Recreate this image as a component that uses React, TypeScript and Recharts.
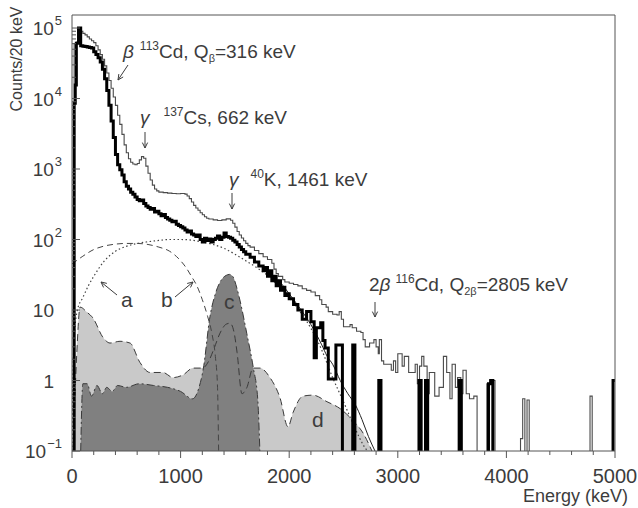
import React from 'react';
import { ComposedChart, Line, Area, XAxis, YAxis, ReferenceLine } from 'recharts';

// energy ticks (keV), labels every 1000
const xTicks = [0, 200, 400, 600, 800, 1000, 1200, 1400, 1600, 1800, 2000, 2200, 2400, 2600, 2800, 3000,
  3200, 3400, 3600, 3800, 4000, 4200, 4400, 4600, 4800, 5000];
const xLabels = ['0', '1000', '2000', '3000', '4000', '5000'];

const yMajor = [0.1, 1, 10, 100, 1000, 10000, 100000];
const yLabels: [string, string][] = [['10', '−1'], ['1', ''], ['10', ''], ['10', '2'], ['10', '3'], ['10', '4'], ['10', '5']];
const yMinor = [0.2, 0.3, 0.4, 0.5, 0.6, 0.7, 0.8, 0.9, 2, 3, 4, 5, 6, 7, 8, 9, 20, 30, 40, 50, 60, 70, 80, 90,
  200, 300, 400, 500, 600, 700, 800, 900, 2000, 3000, 4000, 5000, 6000, 7000, 8000, 9000,
  20000, 30000, 40000, 50000, 60000, 70000, 80000, 90000];

// [bin start keV, counts]; 0.05 = empty bin (below the axis)
const thinHist: [number, number][] = [
  [0, 0.05], [20, 6.0e4], [40, 6.3e4], [60, 9.8e4], [80, 9.0e4], [100, 8.4e4], [120, 8.0e4], [140, 7.5e4],
  [160, 7.0e4], [180, 6.6e4], [200, 6.2e4], [220, 5.6e4], [240, 4.9e4], [260, 4.2e4], [280, 3.6e4],
  [300, 2.9e4], [320, 2.3e4], [340, 1.8e4], [360, 1.4e4], [380, 1.05e4], [400, 8.0e3], [420, 5.8e3],
  [440, 4.3e3], [460, 3.1e3], [480, 2.2e3], [500, 1.7e3], [520, 1.4e3], [540, 1.25e3], [560, 1.18e3],
  [580, 1.15e3], [600, 1.2e3], [620, 1.35e3], [640, 1.5e3], [660, 1.42e3], [680, 1.1e3], [700, 870],
  [720, 700], [740, 590], [760, 520], [780, 490], [800, 470], [840, 462], [880, 455], [920, 450],
  [960, 445], [1000, 450], [1040, 440], [1060, 415], [1080, 380], [1100, 340], [1120, 305], [1140, 280],
  [1160, 260], [1180, 240], [1200, 225], [1220, 210], [1240, 200], [1260, 195], [1300, 190], [1340, 186],
  [1380, 190], [1420, 196], [1460, 188], [1480, 170], [1500, 150], [1520, 130], [1540, 116], [1560, 105],
  [1580, 96], [1600, 88], [1620, 82], [1640, 78], [1680, 70], [1720, 63], [1760, 57], [1800, 52],
  [1840, 46], [1860, 38], [1880, 33], [1900, 30], [1940, 27], [1960, 25], [2000, 24], [2040, 23],
  [2080, 22], [2120, 20], [2160, 19], [2200, 18], [2240, 16], [2280, 14], [2300, 12], [2340, 11],
  [2360, 9.5], [2400, 8.7], [2440, 8.5], [2460, 9.5], [2480, 7.4], [2500, 5.8], [2560, 6.2], [2580, 5.6],
  [2620, 5], [2660, 4.8], [2680, 3.8], [2700, 3], [2740, 3.4], [2780, 3.8], [2800, 3], [2820, 2.4],
  [2830, 3.8], [2850, 1.9], [2870, 1.7], [2900, 1.7], [2940, 1.4], [2960, 1.9], [2980, 1.3], [3000, 2.4],
  [3040, 1.6], [3060, 2.2], [3100, 1.3], [3160, 1.7], [3180, 0.9], [3200, 1.6], [3220, 2.2], [3240, 1.6],
  [3270, 0.65], [3290, 1.3], [3340, 0.6], [3380, 0.8], [3420, 2.2], [3450, 1.3], [3480, 0.55], [3500, 1.7],
  [3530, 0.8], [3550, 1.1], [3580, 0.65], [3600, 1.4], [3630, 0.65], [3660, 0.55], [3700, 0.6], [3730, 0.05],
  [3820, 0.9], [3850, 1.0], [3895, 0.05], [4130, 0.15], [4150, 0.55], [4170, 0.05], [4190, 0.53], [4210, 0.05],
  [4770, 0.6], [4790, 0.05], [4980, 1.0], [5000, 1.0],
];

const thickHist: [number, number][] = [
  [0, 0.05], [20, 8.6e3], [30, 1.55e4], [40, 6.1e4], [60, 1.0e5], [80, 5.6e4], [100, 5.5e4], [120, 5.45e4],
  [140, 5.4e4], [160, 5.3e4], [180, 5.2e4], [200, 4.6e4], [220, 4.2e4], [240, 3.8e4], [260, 3.3e4],
  [280, 2.6e4], [300, 1.9e4], [320, 1.3e4], [340, 8.0e3], [360, 4.8e3], [380, 2.8e3], [400, 1.6e3],
  [420, 1.15e3], [440, 980], [460, 820], [480, 660], [500, 570], [520, 520], [540, 470], [560, 440],
  [580, 400], [600, 370], [620, 355], [640, 362], [660, 325], [680, 300], [700, 285], [720, 268],
  [740, 275], [760, 245], [780, 252], [800, 232], [820, 218], [840, 226], [860, 205], [880, 195],
  [900, 188], [920, 178], [940, 182], [960, 165], [980, 158], [1000, 152], [1020, 146], [1040, 136],
  [1060, 128], [1080, 132], [1100, 120], [1120, 116], [1140, 110], [1160, 116], [1180, 100], [1200, 92],
  [1220, 104], [1240, 97], [1260, 102], [1280, 92], [1300, 100], [1320, 104], [1340, 112], [1360, 100],
  [1380, 108], [1400, 124], [1420, 110], [1440, 108], [1460, 104], [1480, 98], [1500, 92], [1520, 85],
  [1540, 78], [1560, 72], [1580, 67], [1600, 62], [1640, 56], [1680, 48], [1720, 42], [1760, 36],
  [1780, 40], [1800, 30], [1820, 36], [1840, 26], [1860, 30], [1880, 22], [1900, 26], [1920, 19],
  [1940, 21], [1960, 16], [1980, 17], [2000, 14.5], [2040, 12], [2080, 10], [2120, 7.4], [2160, 9.5],
  [2200, 6.8], [2230, 2.1], [2250, 5.6], [2290, 6.6], [2310, 3.7], [2330, 2.9], [2360, 1.05], [2430, 3.2],
  [2490, 0.05], [2585, 3.2], [2605, 0.05], [2825, 1.0], [2845, 0.05], [3195, 1.0], [3215, 0.05],
  [3255, 1.0], [3275, 0.05], [3565, 1.0], [3585, 0.05], [3835, 0.9], [3855, 1.0], [3875, 0.05],
  [4982, 1.0], [5000, 1.0],
];

// model components
const curveA: [number, number][] = [
  [0, 0.1], [10, 1.5], [25, 5], [50, 10], [100, 15], [150, 22], [200, 30], [300, 50], [400, 68], [500, 80],
  [600, 88], [700, 93], [800, 97], [900, 100], [1000, 100], [1100, 98], [1200, 92], [1300, 85], [1400, 75],
  [1500, 62], [1600, 50], [1700, 40], [1800, 31], [1900, 22], [2000, 15], [2100, 9.5], [2200, 5.5],
  [2300, 2.7], [2400, 1.1], [2500, 0.5], [2600, 0.22], [2700, 0.11], [2720, 0.1],
];
const curveB: [number, number][] = [
  [0, 45], [100, 58], [200, 72], [300, 81], [400, 86], [500, 88], [600, 88], [700, 85], [800, 78],
  [900, 68], [1000, 50], [1050, 40], [1100, 30], [1150, 22], [1200, 14], [1250, 8], [1290, 4.5],
  [1320, 2.2], [1340, 0.8], [1350, 0.1],
];
const areaC: [number, number][] = [
  [80, 0.1], [100, 0.9], [140, 0.9], [180, 0.6], [230, 0.85], [280, 0.65], [320, 0.8], [370, 0.7],
  [420, 0.85], [500, 0.8], [620, 0.9], [750, 0.85], [880, 0.8], [1000, 0.7], [1110, 0.55], [1170, 0.8],
  [1210, 1.5], [1270, 8], [1320, 17], [1370, 26], [1420, 31], [1450, 32], [1480, 30], [1520, 20],
  [1550, 13], [1610, 4.6], [1670, 1.5], [1710, 0.55], [1730, 0.1],
];
const areaD: [number, number][] = [
  [10, 0.1], [46, 2.8], [74, 11], [138, 9.3], [193, 7.7], [285, 4.1], [350, 3.4], [442, 3.6], [534, 3.4],
  [626, 1.8], [718, 1.3], [838, 1.3], [930, 1.1], [1022, 1.2], [1114, 1.5], [1200, 1.5], [1260, 1.9],
  [1310, 2.9], [1363, 4.7], [1420, 6.3], [1455, 6.5], [1490, 5], [1520, 2.5], [1565, 0.65], [1611, 0.8],
  [1667, 1.5], [1731, 1.5], [1823, 1.1], [1915, 0.57], [1989, 0.22], [2035, 0.35], [2127, 0.6],
  [2219, 0.62], [2348, 0.5], [2468, 0.4], [2587, 0.27], [2680, 0.18], [2762, 0.1],
];
const fitTotal: [number, number][] = [
  [1900, 27], [2000, 17], [2100, 10.5], [2200, 6.2], [2300, 3.2], [2350, 2.2], [2400, 1.7], [2470, 1.0],
  [2540, 0.65], [2610, 0.45], [2670, 0.28], [2730, 0.16], [2790, 0.1],
];

const pts = (a: [number, number][]) => a.map(([e, v]) => ({ e, v }));

const FONT = '"Liberation Sans", Arial, sans-serif';
const INK = '#3c3c3c';
const Y_MAX = 1.53e5;

function XTick(props: any) {
  const { x, y, payload } = props;
  const v = payload.value;
  const major = v % 1000 === 0;
  const label = xLabels[v / 1000];
  return (
    <g>
      <line x1={x} x2={x} y1={y} y2={y + (major ? 7 : 4)} stroke="#555" />
      {major && (
        <text x={x} y={y + 32} textAnchor="middle" fontSize={20} fontFamily={FONT} fill={INK}>
          {label}
        </text>
      )}
    </g>
  );
}

function YTick(props: any) {
  const { x, y, payload } = props;
  const idx = yMajor.indexOf(payload.value);
  if (idx < 0) return <line x1={x} x2={x + 4} y1={y} y2={y} stroke="#555" />;
  const [base, sup] = yLabels[idx];
  return (
    <g>
      <line x1={x} x2={x + 8} y1={y} y2={y} stroke="#555" />
      <text x={sup ? x - 10 : x - 18} y={y + 7} textAnchor="end" fontSize={19} fontFamily={FONT} fill={INK}>
        {base}
        {sup && (
          <tspan fontSize={13} dx={1} dy={-10}>
            {sup}
          </tspan>
        )}
      </text>
    </g>
  );
}

function Arrow({ x1, y1, x2, y2 }: { x1: number; y1: number; x2: number; y2: number }) {
  const a = Math.atan2(y2 - y1, x2 - x1);
  const h = 6;
  const p1 = [x2 - h * Math.cos(a - 0.45), y2 - h * Math.sin(a - 0.45)];
  const p2 = [x2 - h * Math.cos(a + 0.45), y2 - h * Math.sin(a + 0.45)];
  return (
    <g stroke={INK} strokeWidth={1} fill="none">
      <line x1={x1} y1={y1} x2={x2} y2={y2} />
      <polyline points={`${p1[0]},${p1[1]} ${x2},${y2} ${p2[0]},${p2[1]}`} />
    </g>
  );
}

function Annotations() {
  return (
    <svg width={638} height={508} style={{ position: 'absolute', left: 0, top: 0, pointerEvents: 'none' }}>
      <g fontFamily={FONT} fill={INK} fontSize={19}>
        <text x={17} y={59} textAnchor="middle" fontSize={16} transform="rotate(-90 17 59)" dy={5}>
          Counts/20 keV
        </text>
        <text x={628} y={502} textAnchor="end" fontSize={18}>Energy (keV)</text>

        <text x={123} y={58}>
          <tspan fontStyle="italic">β</tspan>
          <tspan fontSize={12} dx={6} dy={-8}>113</tspan>
          <tspan dy={8}>Cd, Q</tspan>
          <tspan fontSize={11} dy={4}>β</tspan>
          <tspan dy={-4}>=316 keV</tspan>
        </text>
        <text x={140} y={124}>
          <tspan fontStyle="italic">γ</tspan>
          <tspan fontSize={12} dx={14} dy={-8}>137</tspan>
          <tspan dy={8}>Cs, 662 keV</tspan>
        </text>
        <text x={229} y={186}>
          <tspan fontStyle="italic">γ</tspan>
          <tspan fontSize={12} dx={12} dy={-8}>40</tspan>
          <tspan dy={8}>K, 1461 keV</tspan>
        </text>
        <text x={369} y={291}>
          <tspan>2</tspan>
          <tspan fontStyle="italic">β</tspan>
          <tspan fontSize={12} dx={5} dy={-8}>116</tspan>
          <tspan dy={8}>Cd, Q</tspan>
          <tspan fontSize={11} dy={4}>2β</tspan>
          <tspan dy={-4}>=2805 keV</tspan>
        </text>
        <text x={121} y={307} fontSize={21}>a</text>
        <text x={161} y={307} fontSize={21}>b</text>
        <text x={224} y={309} fontSize={21}>c</text>
        <text x={312} y={427} fontSize={21}>d</text>
      </g>
      <Arrow x1={128} y1={65} x2={118} y2={80} />
      <Arrow x1={145} y1={132} x2={145} y2={148} />
      <Arrow x1={232} y1={193} x2={232} y2={209} />
      <Arrow x1={375} y1={302} x2={375} y2={317} />
      <Arrow x1={117} y1={295} x2={101} y2={282} />
      <Arrow x1={175} y1={297} x2={193} y2={282} />
    </svg>
  );
}

export default function App() {
  return (
    <div style={{ position: 'absolute', left: 0, top: 0, width: 638, height: 508, background: '#fff' }}>
      <ComposedChart width={638} height={508} margin={{ top: 15, right: 23, left: 0, bottom: 0 }}>
        <XAxis
          dataKey="e"
          type="number"
          domain={[0, 5000]}
          ticks={xTicks}
          interval={0}
          allowDataOverflow
          height={57}
          tickSize={0}
          tickMargin={0}
          tickLine={false}
          axisLine={{ stroke: '#555' }}
          tick={(p: any) => <XTick {...p} />}
        />
        <YAxis
          dataKey="v"
          type="number"
          scale="log"
          domain={[0.1, Y_MAX]}
          ticks={[...yMajor, ...yMinor]}
          interval={0}
          allowDataOverflow
          width={72}
          tickSize={0}
          tickMargin={0}
          tickLine={false}
          axisLine={{ stroke: '#555' }}
          tick={(p: any) => <YTick {...p} />}
        />
        <Area data={pts(areaD)} dataKey="v" type="monotone" baseValue={0.1} fill="#c9c9c9" fillOpacity={1}
          stroke="none" isAnimationActive={false} />
        <Area data={pts(areaC)} dataKey="v" type="monotone" baseValue={0.1} fill="#808080" fillOpacity={1}
          stroke="none" isAnimationActive={false} />
        <Line data={pts(areaD)} dataKey="v" type="monotone" stroke="#3a3a3a" strokeWidth={1}
          strokeDasharray="7 4" dot={false} isAnimationActive={false} />
        <Line data={pts(areaC)} dataKey="v" type="monotone" stroke="#3a3a3a" strokeWidth={1}
          strokeDasharray="8 3 2 3" dot={false} isAnimationActive={false} />
        <Line data={pts(curveA)} dataKey="v" type="monotone" stroke="#444" strokeWidth={1.2}
          strokeDasharray="1.5 2.5" dot={false} isAnimationActive={false} />
        <Line data={pts(curveB)} dataKey="v" type="monotone" stroke="#444" strokeWidth={1}
          strokeDasharray="6 4" dot={false} isAnimationActive={false} />
        <Line data={pts(fitTotal)} dataKey="v" type="monotone" stroke="#222" strokeWidth={1}
          dot={false} isAnimationActive={false} />
        <Line data={pts(thinHist)} dataKey="v" type="stepAfter" stroke="#4a4a4a" strokeWidth={1.1}
          dot={false} isAnimationActive={false} />
        <Line data={pts(thickHist)} dataKey="v" type="stepAfter" stroke="#000" strokeWidth={3}
          strokeLinejoin="miter" dot={false} isAnimationActive={false} />
        <ReferenceLine x={5000} stroke="#555" ifOverflow="extendDomain" />
        <ReferenceLine y={Y_MAX} stroke="#555" ifOverflow="extendDomain" />
      </ComposedChart>
      <Annotations />
    </div>
  );
}
